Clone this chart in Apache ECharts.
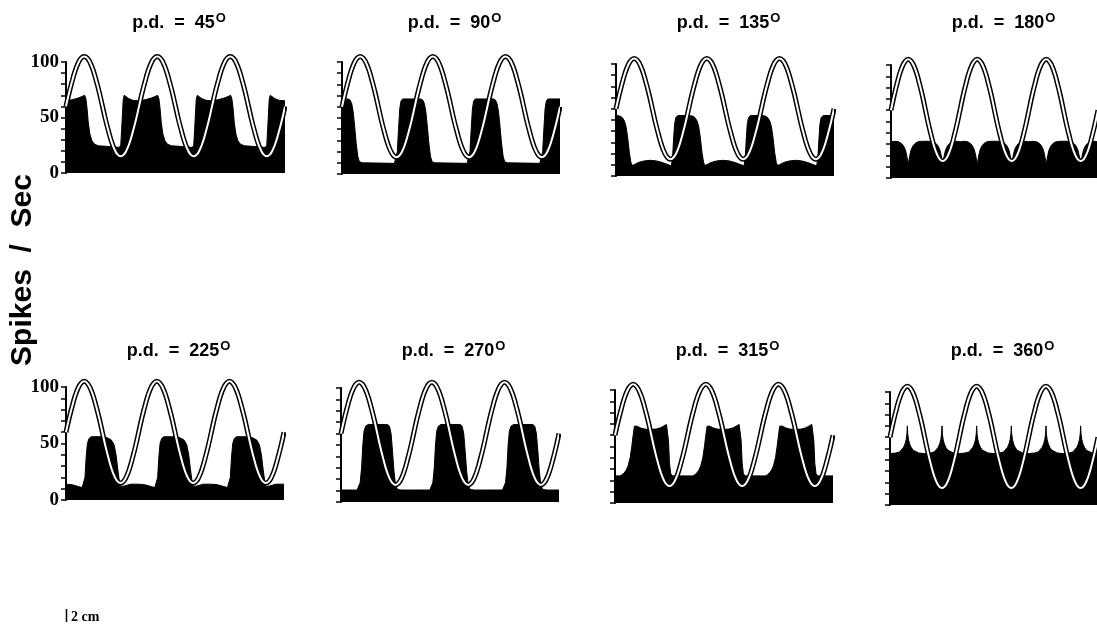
<!DOCTYPE html>
<html>
<head>
<meta charset="utf-8">
<script src="https://cdn.jsdelivr.net/npm/echarts@6/dist/echarts.min.js"></script>
<style>
  html, body { margin: 0; padding: 0; background: #fff; }
  #chart { width: 1097px; height: 639px; }
</style>
</head>
<body>
<div id="chart"></div>
<script>
// Sinusoidal drive, one cycle: [phase in degrees, value]
const stimulusCycle = [
  [0, 60], [15, 72], [30, 82.5], [45, 92], [60, 99], [75, 103.5], [90, 105],
  [105, 103.5], [120, 99], [135, 92], [150, 82.5], [165, 72], [180, 60],
  [195, 48], [210, 37.5], [225, 28], [240, 21], [255, 16.5], [270, 15],
  [285, 16.5], [300, 21], [315, 28], [330, 37.5], [345, 48], [360, 60]
];

// Phase differences, one per panel
const phaseLabels = ['45', '90', '135', '180', '225', '270', '315', '360'];

// Firing rate (spikes/sec) over one drive cycle: [phase in degrees, rate]
const rate45 = [
  [0, 65], [30, 66], [60, 67.5], [80, 69], [92, 70], [98, 67], [104, 58], [110, 45],
  [118, 35], [128, 29], [140, 26], [160, 24.5], [200, 24], [240, 23.5], [262, 23],
  [270, 25], [276, 45], [282, 66], [287, 70], [295, 69], [310, 67], [330, 65.5], [360, 65]
];
const rate90 = [
  [0, 67], [30, 67], [40, 66], [48, 63], [55, 56], [62, 44], [70, 28], [78, 16],
  [86, 11], [100, 10], [260, 9.5], [268, 11], [274, 20], [280, 40], [286, 58],
  [292, 65], [300, 67], [360, 67]
];
const rate135 = [
  [0, 54], [20, 53.5], [32, 52], [42, 49], [50, 44], [58, 34], [66, 21], [74, 12],
  [80, 9.5], [90, 10], [110, 12], [140, 13.5], [170, 14], [200, 13.5], [230, 12],
  [260, 10], [274, 9], [280, 16], [285, 32], [290, 46], [296, 52], [306, 54], [360, 54]
];
const rate180 = [
  [0, 32], [20, 32.5], [40, 32], [55, 30.5], [65, 28.5], [75, 25], [82, 20], [87, 15],
  [90, 11.5], [93, 15], [98, 20], [105, 25], [115, 28.5], [125, 30.5], [140, 32],
  [160, 32.5], [200, 32.5], [220, 32], [235, 30.5], [245, 28.5], [255, 25], [262, 20],
  [267, 15], [270, 11.5], [273, 15], [278, 20], [285, 25], [295, 28.5], [305, 30.5],
  [320, 32], [340, 32.5], [360, 32]
];
const rate225 = [
  [0, 14], [30, 13.5], [60, 12], [80, 11], [88, 12], [94, 20], [100, 38], [106, 50],
  [114, 54.5], [125, 56], [180, 56], [205, 55], [225, 53], [238, 49], [248, 40],
  [256, 28], [264, 17], [272, 12], [290, 12.5], [320, 14], [360, 14]
];
const rate270 = [
  [0, 10.5], [80, 10.5], [88, 12], [95, 17], [102, 30], [108, 50], [114, 62],
  [122, 66.5], [135, 68], [230, 68], [240, 66.5], [248, 60], [255, 45], [262, 28],
  [270, 15], [280, 11], [300, 10.5], [360, 10.5]
];
const rate315 = [
  [0, 24], [25, 24], [35, 25], [45, 26.5], [55, 29], [65, 33], [75, 40], [83, 50],
  [90, 60], [96, 68], [100, 69.5], [110, 68], [125, 66.5], [145, 65.5], [175, 65],
  [205, 65.5], [225, 66.5], [240, 68], [255, 69.5], [260, 69], [265, 55], [270, 35],
  [276, 26], [285, 24], [360, 24]
];
const rate360 = [
  [0, 45.5], [30, 46], [50, 47], [60, 48.5], [70, 51], [78, 54], [84, 58], [88, 63],
  [90, 70], [92, 63], [96, 58], [102, 54], [110, 51], [120, 48.5], [130, 47],
  [150, 46], [180, 45.5], [210, 46], [230, 47], [240, 48.5], [250, 51], [258, 54],
  [264, 58], [268, 63], [270, 70], [272, 63], [276, 58], [282, 54], [290, 51],
  [300, 48.5], [310, 47], [330, 46], [360, 45.5]
];
const rateSeries = [rate45, rate90, rate135, rate180, rate225, rate270, rate315, rate360];

// Labelled y ticks
const yTickLabels = [0, 50, 100];

const CYCLES = 3;
const X_MAX = 1075;

// Repeat a one-cycle trace over several cycles
function repeatCycles(cycle, n) {
  const out = [];
  for (let k = 0; k < n; k++) {
    cycle.forEach(([p, v], i) => {
      if (k > 0 && i === 0) return;
      out.push([p + 360 * k, v]);
    });
  }
  return out;
}

// Plot boxes (px) for the 2 x 4 panel layout
const panelBoxes = [
  { left: 66,  top: 62,  width: 218, height: 111 },
  { left: 342, top: 62,  width: 217, height: 112 },
  { left: 616, top: 64,  width: 217, height: 112 },
  { left: 891, top: 65,  width: 217, height: 113 },
  { left: 66,  top: 387, width: 217, height: 113 },
  { left: 341, top: 388, width: 217, height: 114 },
  { left: 615, top: 390, width: 217, height: 113 },
  { left: 890, top: 392, width: 217, height: 113 }
];
const titleRowY = [23, 351];

const grid = [], xAxis = [], yAxis = [], series = [], graphic = [];
const stimulus = repeatCycles(stimulusCycle, CYCLES);

panelBoxes.forEach((b, i) => {
  grid.push({ left: b.left, top: b.top, width: b.width, height: b.height, containLabel: false });
  xAxis.push({ gridIndex: i, type: 'value', min: 0, max: X_MAX, show: false });
  yAxis.push({
    gridIndex: i, type: 'value', min: 0, max: 100, interval: 10,
    axisLine: { show: true, lineStyle: { color: '#000', width: 2 } },
    axisTick: { show: true, inside: false, length: 5, lineStyle: { color: '#000', width: 1.5 } },
    axisLabel: {
      show: i % 4 === 0,
      margin: 7,
      color: '#000',
      fontFamily: 'Liberation Serif',
      fontWeight: 'bold',
      fontSize: 19,
      formatter: v => (yTickLabels.includes(v) ? String(v) : '')
    },
    splitLine: { show: false }
  });

  // firing-rate histogram, filled black
  series.push({
    type: 'line', xAxisIndex: i, yAxisIndex: i,
    data: repeatCycles(rateSeries[i], CYCLES),
    showSymbol: false, symbol: 'none',
    lineStyle: { color: '#000', width: 1 },
    areaStyle: { color: '#000', opacity: 1 },
    z: 2, silent: true, animation: false
  });
  // drive waveform: black outline with white core
  series.push({
    type: 'line', xAxisIndex: i, yAxisIndex: i, data: stimulus,
    smooth: true, showSymbol: false, symbol: 'none', clip: false,
    lineStyle: { color: '#000', width: 5 },
    z: 3, silent: true, animation: false
  });
  series.push({
    type: 'line', xAxisIndex: i, yAxisIndex: i, data: stimulus,
    smooth: true, showSymbol: false, symbol: 'none', clip: false,
    lineStyle: { color: '#fff', width: 2 },
    z: 4, silent: true, animation: false
  });

  // panel heading
  graphic.push({
    type: 'text',
    x: b.left + b.width / 2 + 4,
    y: titleRowY[i < 4 ? 0 : 1],
    style: {
      text: '{m|p.d.  =  ' + phaseLabels[i] + '}{s|O}',
      align: 'center',
      verticalAlign: 'middle',
      rich: {
        m: { fontFamily: 'Liberation Sans', fontWeight: 'bold', fontSize: 18, lineHeight: 22, fill: '#000' },
        s: { fontFamily: 'Liberation Sans', fontWeight: 'bold', fontSize: 13, lineHeight: 14, verticalAlign: 'top', fill: '#000', padding: [0, 0, 0, 1] }
      }
    }
  });
});

// shared y-axis title
graphic.push({
  type: 'text', x: 23, y: 270, rotation: Math.PI / 2,
  style: {
    text: 'Spikes  /  Sec', align: 'center', verticalAlign: 'middle',
    fontFamily: 'Liberation Sans', fontWeight: 'bold', fontSize: 30, fill: '#000'
  }
});
// scale bar
graphic.push({
  type: 'line', shape: { x1: 66.5, y1: 609, x2: 66.5, y2: 622 },
  style: { stroke: '#000', lineWidth: 1.5 }
});
graphic.push({
  type: 'text', x: 71, y: 617,
  style: {
    text: '2 cm', align: 'left', verticalAlign: 'middle',
    fontFamily: 'Liberation Serif', fontWeight: 'bold', fontSize: 14, fill: '#000'
  }
});

const chart = echarts.init(document.getElementById('chart'), null, { renderer: 'canvas' });
chart.setOption({
  backgroundColor: '#fff',
  animation: false,
  grid, xAxis, yAxis, series, graphic
});
</script>
</body>
</html>
